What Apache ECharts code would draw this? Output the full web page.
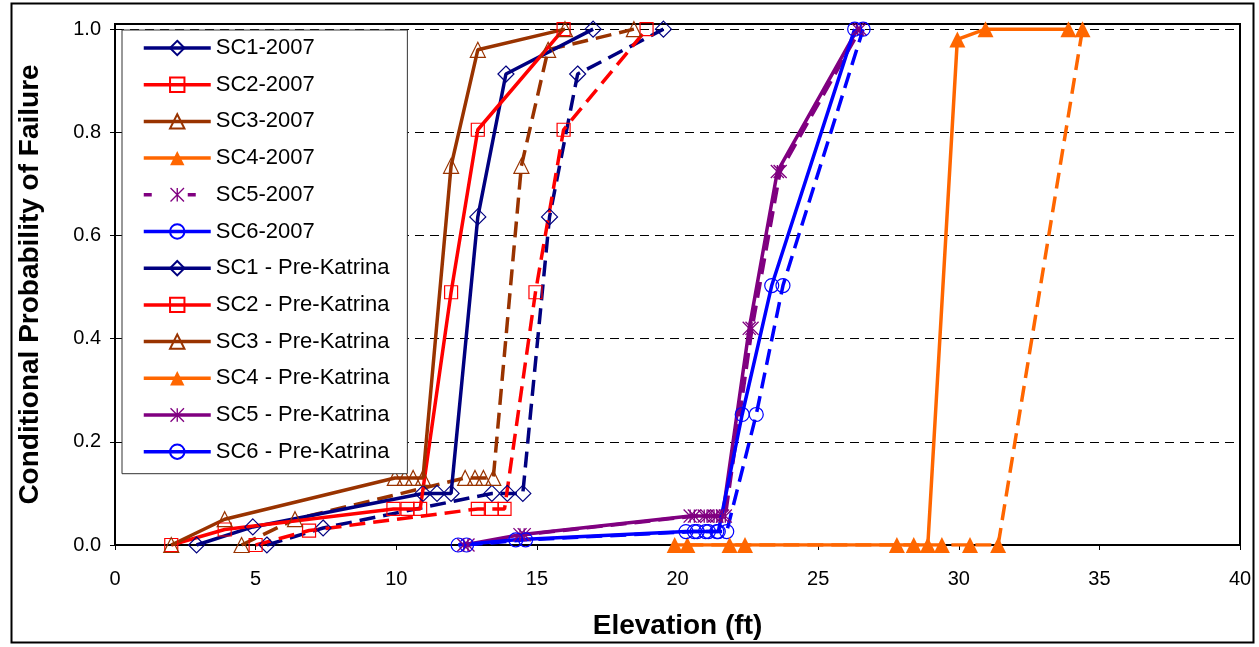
<!DOCTYPE html>
<html>
<head>
<meta charset="utf-8">
<script src="https://cdn.jsdelivr.net/npm/echarts@6/dist/echarts.min.js"></script>
<style>
html,body{margin:0;padding:0;background:#fff;}
#chart{width:1259px;height:647px;}
</style>
</head>
<body>
<div id="chart"></div>
<script>
// ---- data (x = elevation ft, y = conditional probability of failure) ----
const seriesNames = [
  'SC1-2007','SC2-2007','SC3-2007','SC4-2007','SC5-2007','SC6-2007',
  'SC1 - Pre-Katrina','SC2 - Pre-Katrina','SC3 - Pre-Katrina','SC4 - Pre-Katrina','SC5 - Pre-Katrina','SC6 - Pre-Katrina'
];
const xTicks = [0,5,10,15,20,25,30,35,40];
const yTicks = [0,0.2,0.4,0.6,0.8,1.0];

const sc1_2007 = [[5.4,0],[7.4,0.033],[13.4,0.1],[13.95,0.1],[14.5,0.1],[15.45,0.636],[16.45,0.913],[19.5,1.0]];
const sc2_2007 = [[5.0,0],[6.9,0.028],[12.9,0.07],[13.4,0.07],[13.85,0.07],[14.95,0.49],[15.95,0.805],[18.9,1.0]];
const sc3_2007 = [[4.5,0],[6.4,0.05],[12.45,0.13],[12.8,0.13],[13.1,0.13],[13.45,0.13],[14.45,0.735],[15.4,0.96],[18.45,1.0]];
const sc4_2007 = [[20.35,0],[22.4,0],[29.4,0],[30.4,0],[31.4,0],[34.4,1.0]];
const sc5_2007 = [[12.55,0],[14.55,0.02],[20.6,0.056],[21.05,0.056],[21.4,0.056],[21.7,0.056],[22.65,0.42],[23.65,0.724],[26.5,1.0]];
const sc6_2007 = [[12.5,0],[14.6,0.01],[20.6,0.026],[21.0,0.026],[21.4,0.026],[21.75,0.026],[22.8,0.253],[23.75,0.503],[26.6,1.0]];

const sc1_pre = [[2.9,0],[4.9,0.035],[10.95,0.1],[11.45,0.1],[11.95,0.1],[12.9,0.636],[13.9,0.913],[17.0,1.0]];
const sc2_pre = [[2.0,0],[3.9,0.03],[9.9,0.07],[10.4,0.07],[10.85,0.07],[11.95,0.49],[12.9,0.805],[15.95,1.0]];
const sc3_pre = [[2.0,0],[3.9,0.05],[9.95,0.13],[10.3,0.13],[10.6,0.13],[10.95,0.13],[11.95,0.735],[12.9,0.96],[16.0,1.0]];
const sc4_pre = [[19.9,0],[21.85,0],[27.8,0],[28.4,0],[28.9,0],[29.95,0.98],[30.95,1.0],[33.9,1.0]];
const sc5_pre = [[12.4,0],[14.4,0.02],[20.45,0.056],[20.95,0.056],[21.3,0.056],[21.6,0.056],[22.55,0.42],[23.55,0.724],[26.4,1.0]];
const sc6_pre = [[12.2,0],[14.25,0.01],[20.3,0.026],[20.7,0.026],[21.1,0.026],[21.45,0.026],[22.3,0.253],[23.35,0.503],[26.3,1.0]];

const allData = [sc1_2007,sc2_2007,sc3_2007,sc4_2007,sc5_2007,sc6_2007,sc1_pre,sc2_pre,sc3_pre,sc4_pre,sc5_pre,sc6_pre];

// ---- styles ----
const colors = ['#000080','#FF0000','#993300','#FF6600','#800080','#0000FF'];
const asterisk = 'path://M-0.5,-5L0.5,-5L0.5,5L-0.5,5Z M-5.354,-4.646L-4.646,-5.354L5.354,4.646L4.646,5.354Z M-5.354,4.646L4.646,-5.354L5.354,-4.646L-4.646,5.354Z';
const symbols = ['diamond','rect','triangle','triangle',asterisk,'circle'];
const symbolSizes = [16,13,15,16,14,14];
const filled = [false,false,false,true,true,false];
const FONT = '"Liberation Sans", Arial, sans-serif';

const series = seriesNames.map((name,i)=>{
  const k = i % 6;
  const dashed = i < 6;
  const c = colors[k];
  return {
    name: name,
    type: 'line',
    data: allData[i],
    symbol: symbols[k],
    symbolSize: symbolSizes[k],
    showAllSymbol: true,
    color: c,
    lineStyle: {color: c, width: 3.5, type: dashed ? [16,8] : 'solid'},
    itemStyle: filled[k] ? {color: c, borderWidth: 0} : {color: 'rgba(255,255,255,0)', borderColor: c, borderWidth: 1.2},
    animation: false,
    z: 2
  };
});

const legendData = seriesNames.map((n,i)=>({
  name: n,
  lineStyle: {type: (i===4) ? [8,36] : 'solid', width: 3.5}
}));

const chart = echarts.init(document.getElementById('chart'), null, {renderer:'canvas'});
chart.setOption({
  backgroundColor: '#fff',
  animation: false,
  textStyle: {fontFamily: FONT},
  grid: {left: 115, right: 19, top: 24, bottom: 102, show: true, borderColor: '#000', borderWidth: 2, backgroundColor: 'transparent'},
  graphic: [{
    type: 'rect', left: 9, top: 1, silent: true, z: -10,
    shape: {width: 1242, height: 639},
    style: {fill: 'none', stroke: '#000', lineWidth: 2}
  }],
  legend: {
    orient: 'vertical',
    left: 122, top: 30,
    data: legendData,
    itemWidth: 67, itemHeight: 18,
    itemGap: 14.7,
    padding: [7, 18, 11, 20],
    backgroundColor: '#fff',
    borderColor: '#333', borderWidth: 1,
    textStyle: {fontSize: 22, color: '#000', lineHeight: 22, fontFamily: FONT},
    selectedMode: false
  },
  xAxis: {
    type: 'value', min: 0, max: 40, interval: 5,
    name: 'Elevation (ft)', nameLocation: 'middle', nameGap: 67,
    nameTextStyle: {fontSize: 28, fontWeight: 'bold', color: '#000', fontFamily: FONT},
    axisLine: {show: true, onZero: false, lineStyle: {color: '#000', width: 2}},
    axisTick: {show: true, length: 5, inside: false, lineStyle: {color: '#000'}},
    axisLabel: {fontSize: 20, color: '#000', margin: 24, formatter: v => (xTicks.indexOf(v) >= 0 ? String(v) : '')},
    splitLine: {show: false}
  },
  yAxis: {
    type: 'value', min: 0, max: 1.01, interval: 0.2,
    name: 'Conditional Probability of Failure', nameLocation: 'middle', nameGap: 71, nameRotate: 90,
    nameTextStyle: {fontSize: 28, fontWeight: 'bold', color: '#000', fontFamily: FONT},
    axisLine: {show: true, lineStyle: {color: '#000', width: 2}},
    axisTick: {show: true, length: 5, lineStyle: {color: '#000'}, customValues: yTicks},
    axisLabel: {fontSize: 20, color: '#000', margin: 14, customValues: yTicks, formatter: v => v.toFixed(1)},
    splitLine: {show: true, lineStyle: {color: '#000', width: 1, type: [9,6]}}
  },
  series: series
});
</script>
</body>
</html>
